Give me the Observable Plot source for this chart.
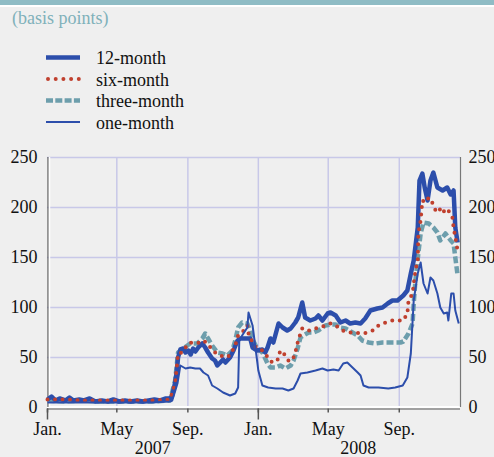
<!DOCTYPE html>
<html><head><meta charset="utf-8">
<script src="https://cdn.jsdelivr.net/npm/d3@7"></script>
<script src="https://cdn.jsdelivr.net/npm/@observablehq/plot@0.6"></script>
<style>
body{margin:0;background:#efefef;width:494px;height:457px;overflow:hidden;position:relative;font-family:"Liberation Serif","Times New Roman",serif;}
#band{position:absolute;left:0;top:0;width:494px;height:5px;background:#8fbcc5;}
#bandw{position:absolute;left:0;top:5px;width:494px;height:2px;background:#fff;}
#sub{position:absolute;left:12px;top:8px;font-size:18px;line-height:20px;color:#7fb1ba;white-space:nowrap;font-family:"Liberation Serif","Times New Roman",serif;}
#legend{position:absolute;left:0;top:45px;}
#chart{position:absolute;left:0;top:140px;}
</style></head><body>
<div id="band"></div><div id="bandw"></div>
<div id="sub">(basis points)</div>
<div id="legend"></div>
<div id="chart"></div>
<script>
const subtitle = "(basis points)";
const seriesNames = ["12-month", "six-month", "three-month", "one-month"];
const yTicks = [0, 50, 100, 150, 200, 250];
const monthTicks = ["2007-01-01","2007-05-01","2007-09-01","2008-01-01","2008-05-01","2008-09-01"];
const monthLabels = ["Jan.","May","Sep.","Jan.","May","Sep."];
const yearStarts = ["2007-01-01","2008-01-01"];
const yearMids = ["2007-07-02","2008-06-22"];
const yearLabels = ["2007","2008"];

const m12 = [
["2007-01-01",8],["2007-01-08",11],["2007-01-15",7],["2007-01-22",9],["2007-02-01",7],["2007-02-08",10],["2007-02-15",7],["2007-02-25",8],
["2007-03-05",7],["2007-03-15",9],["2007-03-25",6],["2007-04-05",7],["2007-04-15",6],["2007-04-25",8],["2007-05-05",6],["2007-05-15",7],
["2007-05-25",6],["2007-06-05",7],["2007-06-15",6],["2007-06-25",7],["2007-07-05",8],["2007-07-15",7],["2007-07-25",9],["2007-08-01",9],
["2007-08-05",12],["2007-08-10",25],["2007-08-13",37],["2007-08-15",50],["2007-08-19",58],["2007-08-24",59],["2007-08-28",55],["2007-09-02",57],["2007-09-06",53],["2007-09-10",59],
["2007-09-14",56],["2007-09-19",60],["2007-09-26",64],["2007-10-01",60],["2007-10-06",55],["2007-10-13",49],["2007-10-18",47],["2007-10-22",42],["2007-10-27",45],["2007-11-01",48],["2007-11-05",45],
["2007-11-13",50],["2007-11-19",57],["2007-11-26",67],["2007-12-01",69],["2007-12-09",69],["2007-12-18",69],["2007-12-22",60],["2007-12-30",57],
["2008-01-08",58],["2008-01-13",55],["2008-01-17",60],["2008-01-22",69],["2008-01-27",65],["2008-02-05",84],["2008-02-12",80],["2008-02-20",77],
["2008-02-26",79],["2008-03-05",85],["2008-03-10",90],["2008-03-17",105],["2008-03-22",90],["2008-03-31",87],["2008-04-09",89],["2008-04-14",92],
["2008-04-21",87],["2008-04-30",94],["2008-05-05",95],["2008-05-14",92],["2008-05-22",85],["2008-05-31",87],["2008-06-08",84],["2008-06-17",85],
["2008-06-26",84],["2008-07-04",89],["2008-07-13",97],["2008-07-25",99],["2008-08-03",100],["2008-08-12",104],["2008-08-20",107],["2008-08-29",107],
["2008-09-08",112],["2008-09-15",117],["2008-09-21",134],["2008-09-26",147],["2008-10-03",180],["2008-10-06",227],["2008-10-11",234],["2008-10-15",220],
["2008-10-20",207],["2008-10-25",227],["2008-10-30",235],["2008-11-06",220],["2008-11-15",217],["2008-11-23",220],["2008-11-29",213],["2008-12-04",217],
["2008-12-07",180],["2008-12-11",165]
];
const m6 = [
["2007-01-01",8],["2007-02-01",8],["2007-03-01",7],["2007-04-01",7],["2007-05-01",7],["2007-06-01",7],["2007-07-01",7],["2007-08-01",8],
["2007-08-10",24],["2007-08-15",54],["2007-08-22",55],["2007-08-28",60],["2007-09-05",65],["2007-09-14",64],["2007-09-22",65],["2007-09-28",67],
["2007-10-05",64],["2007-10-10",60],["2007-10-18",55],["2007-10-27",52],["2007-11-05",50],["2007-11-13",52],["2007-11-22",62],["2007-11-27",72],
["2007-12-04",75],["2007-12-13",82],["2007-12-15",74],["2007-12-23",64],["2007-12-30",59],["2008-01-08",57],["2008-01-18",50],["2008-01-25",45],
["2008-02-03",47],["2008-02-08",57],["2008-02-17",52],["2008-02-22",47],["2008-02-29",47],["2008-03-05",55],["2008-03-10",67],["2008-03-17",79],
["2008-03-22",77],["2008-03-31",77],["2008-04-09",79],["2008-04-17",80],["2008-04-26",82],["2008-05-05",84],["2008-05-14",82],["2008-05-26",77],
["2008-06-05",75],["2008-06-17",75],["2008-06-29",74],["2008-07-08",75],["2008-07-17",77],["2008-07-27",82],["2008-08-08",85],["2008-08-20",87],
["2008-08-31",87],["2008-09-08",87],["2008-09-15",94],["2008-09-17",107],["2008-09-24",114],["2008-09-29",137],["2008-10-03",147],["2008-10-04",174],
["2008-10-08",187],["2008-10-11",207],["2008-10-16",205],["2008-10-22",210],["2008-10-28",205],["2008-11-03",197],["2008-11-08",200],["2008-11-15",194],
["2008-11-20",199],["2008-11-25",197],["2008-12-02",190],["2008-12-04",180],["2008-12-11",157]
];
const m3 = [
["2007-01-01",7],["2007-02-01",6],["2007-03-01",7],["2007-04-01",6],["2007-05-01",6],["2007-06-01",6],["2007-07-01",6],["2007-08-01",7],
["2007-08-10",27],["2007-08-15",55],["2007-08-24",59],["2007-09-05",64],["2007-09-17",64],["2007-09-26",69],["2007-10-01",74],["2007-10-06",69],
["2007-10-13",62],["2007-10-22",55],["2007-10-31",54],["2007-11-08",52],["2007-11-17",57],["2007-11-22",67],["2007-11-27",80],["2007-12-04",85],
["2007-12-13",84],["2007-12-18",77],["2007-12-23",67],["2007-12-30",59],["2008-01-08",55],["2008-01-17",44],["2008-01-22",40],["2008-01-31",40],
["2008-02-08",42],["2008-02-17",39],["2008-02-26",42],["2008-03-02",47],["2008-03-09",59],["2008-03-14",70],["2008-03-19",72],["2008-03-28",75],
["2008-04-05",75],["2008-04-14",77],["2008-04-26",82],["2008-05-05",83],["2008-05-14",83],["2008-05-19",80],["2008-05-31",79],["2008-06-12",75],
["2008-06-21",72],["2008-06-29",67],["2008-07-10",65],["2008-07-22",64],["2008-08-03",65],["2008-08-13",65],["2008-08-25",65],["2008-09-03",65],
["2008-09-08",66],["2008-09-17",74],["2008-09-24",84],["2008-09-26",104],["2008-09-29",127],["2008-10-04",154],["2008-10-08",174],["2008-10-13",185],
["2008-10-22",184],["2008-10-30",180],["2008-11-06",175],["2008-11-11",167],["2008-11-20",174],["2008-11-29",167],["2008-12-04",164],["2008-12-07",150],
["2008-12-11",132]
];
const m1 = [
["2007-01-01",5],["2007-02-01",5],["2007-03-01",5],["2007-04-01",5],["2007-05-01",5],["2007-06-01",5],["2007-07-01",5],["2007-08-01",6],
["2007-08-05",7],["2007-08-14",24],["2007-08-19",42],["2007-08-28",39],["2007-09-05",40],["2007-09-14",39],["2007-09-22",39],["2007-09-28",35],
["2007-10-06",32],["2007-10-13",22],["2007-10-22",19],["2007-11-01",15],["2007-11-13",12],["2007-11-22",14],["2007-11-27",20],["2007-11-29",67],
["2007-12-04",72],["2007-12-13",80],["2007-12-15",95],["2007-12-22",82],["2007-12-27",60],["2008-01-01",37],["2008-01-08",22],["2008-01-18",20],
["2008-01-31",19],["2008-02-12",19],["2008-02-22",17],["2008-03-02",19],["2008-03-09",27],["2008-03-14",34],["2008-03-26",35],["2008-04-09",37],
["2008-04-21",39],["2008-04-30",37],["2008-05-10",38],["2008-05-19",37],["2008-05-27",44],["2008-06-03",45],["2008-06-12",40],["2008-06-21",35],
["2008-06-26",32],["2008-07-01",22],["2008-07-10",20],["2008-07-27",20],["2008-08-13",19],["2008-08-25",20],["2008-09-07",22],["2008-09-15",30],
["2008-09-21",54],["2008-09-26",107],["2008-10-03",134],["2008-10-08",145],["2008-10-13",124],["2008-10-20",114],["2008-10-25",130],["2008-10-30",127],
["2008-11-06",114],["2008-11-11",100],["2008-11-17",94],["2008-11-23",95],["2008-11-25",87],["2008-11-30",114],["2008-12-04",114],["2008-12-07",97],
["2008-12-13",84]
];

const parse = d3.utcParse("%Y-%m-%d");
const BLUE = "#2c4eab", RED = "#c0402e", TEAL = "#6d9eac", GRID = "#c8c8e8", AX = "#555";
const FONT = "'Liberation Serif', 'Times New Roman', serif";
const styles = {
  "12-month":   {stroke: BLUE, strokeWidth: 4.5, strokeDasharray: null, strokeLinecap: "butt"},
  "six-month":  {stroke: RED, strokeWidth: 4, strokeDasharray: "0 7.5", strokeLinecap: "round"},
  "three-month":{stroke: TEAL, strokeWidth: 4.5, strokeDasharray: "7 3", strokeLinecap: "butt"},
  "one-month":  {stroke: BLUE, strokeWidth: 2, strokeDasharray: null, strokeLinecap: "butt"}
};
const seriesData = {"12-month": m12, "six-month": m6, "three-month": m3, "one-month": m1};
const toRows = arr => arr.map(([d, v]) => ({date: parse(d), value: v}));
const drawOrder = ["three-month", "12-month", "six-month", "one-month"];

const lineMarks = drawOrder.map(name => Plot.line(toRows(seriesData[name]), {
  x: "date", y: "value", curve: "linear", strokeLinejoin: "round", ...styles[name]
}));

const chart = Plot.plot({
  width: 494, height: 317,
  marginLeft: 47, marginRight: 34, marginTop: 17, marginBottom: 50,
  style: {background: "transparent", fontFamily: FONT, fontSize: "18px", color: "#111", overflow: "visible"},
  x: {type: "utc", domain: [parse("2007-01-01"), parse("2008-12-16")], label: null},
  y: {domain: [0, 250], label: null},
  marks: [
    Plot.ruleY(yTicks.filter(v => v > 0), {stroke: GRID, strokeWidth: 1.5}),
    Plot.ruleX(monthTicks.slice(1).map(parse), {y1: 0, y2: 250, stroke: GRID, strokeWidth: 1.5}),
    Plot.ruleY([0], {stroke: "#fff", strokeWidth: 2, dy: -0.5}),
    Plot.ruleY([0], {stroke: AX, strokeWidth: 1.2, dy: 1.5}),
    Plot.ruleX([parse("2007-01-01")], {y1: 0, y2: 250, stroke: AX, strokeWidth: 1.2, dx: 0.5}),
    Plot.ruleX([parse("2007-01-01")], {y1: 0, y2: 250, stroke: "#fff", strokeWidth: 1.5, dx: 2}),
    Plot.ruleX([parse("2008-12-16")], {y1: 0, y2: 250, stroke: "#777", strokeWidth: 1.2}),
    ...lineMarks,
    Plot.axisX({ticks: monthTicks.map(parse), tickSize: 4, tickFormat: () => "", stroke: AX, strokeWidth: 1.5, dy: 1.5, label: null}),
    Plot.axisX({ticks: yearStarts.map(parse), tickSize: 11, tickFormat: () => "", stroke: AX, strokeWidth: 1.5, dy: 1.5, label: null}),
    Plot.axisX({ticks: monthTicks.map(parse), tickSize: 0, tickPadding: 15, tickFormat: (d, i) => monthLabels[i], fill: "#111", label: null}),
    Plot.axisX({ticks: yearMids.map(parse), tickSize: 0, tickPadding: 34, tickFormat: (d, i) => yearLabels[i], fill: "#111", label: null}),
    Plot.axisY({anchor: "left", ticks: yTicks, tickSize: 0, tickPadding: 10, fill: "#111", label: null}),
    Plot.axisY({anchor: "right", ticks: yTicks, tickSize: 0, tickPadding: 8, fill: "#111", label: null})
  ]
});
document.getElementById("chart").appendChild(chart);

// legend
const NS = "http://www.w3.org/2000/svg";
const lg = document.createElementNS(NS, "svg");
lg.setAttribute("width", 494); lg.setAttribute("height", 90);
seriesNames.forEach((name, i) => {
  const y = 12.5 + i * 21.5;
  const s = styles[name];
  const ln = document.createElementNS(NS, "line");
  ln.setAttribute("x1", name === "six-month" ? 48 : 46);
  ln.setAttribute("x2", 80); ln.setAttribute("y1", y); ln.setAttribute("y2", y);
  ln.setAttribute("stroke", s.stroke); ln.setAttribute("stroke-width", s.strokeWidth);
  if (name === "six-month") ln.setAttribute("stroke-dasharray", "0 7.7");
  else if (s.strokeDasharray) ln.setAttribute("stroke-dasharray", "7 2.3");
  ln.setAttribute("stroke-linecap", s.strokeLinecap);
  lg.appendChild(ln);
  const t = document.createElementNS(NS, "text");
  t.setAttribute("x", 96); t.setAttribute("y", y + 6.5);
  t.setAttribute("font-size", "18px"); t.setAttribute("fill", "#111");
  t.setAttribute("font-family", FONT);
  t.textContent = name;
  lg.appendChild(t);
});
document.getElementById("legend").appendChild(lg);
document.getElementById("sub").textContent = subtitle;
</script>
</body></html>
